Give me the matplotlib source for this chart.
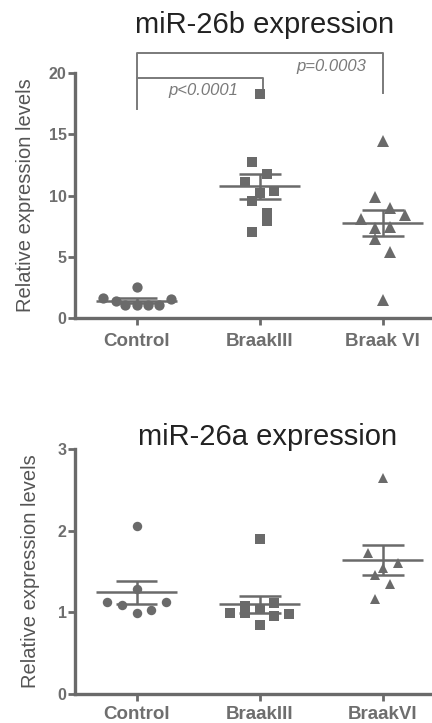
import numpy as np
import matplotlib
matplotlib.use('Agg')
import matplotlib.pyplot as plt

plt.rcParams['font.family'] = ['Liberation Sans', 'DejaVu Sans']

# miR-26b (top panel)
groups_b = ['Control', 'BraakIII', 'Braak VI']
ctrl_b = [1.68, 1.36, 1.09, 1.09, 1.09, 1.09, 1.57, 2.52]
ctrl_b_dx = [-0.27, -0.17, -0.09, 0.0, 0.09, 0.18, 0.28, 0.0]
b3_b = [18.26, 12.75, 11.13, 11.72, 10.23, 10.37, 9.58, 8.55, 7.9, 7.06]
b3_b_dx = [0.0, -0.06, -0.12, 0.06, 0.0, 0.12, -0.06, 0.06, 0.06, -0.06]
b6_b = [14.46, 9.9, 8.96, 8.41, 8.06, 7.33, 7.46, 6.43, 5.37, 1.49]
b6_b_dx = [0.0, -0.06, 0.06, 0.18, -0.18, -0.06, 0.06, -0.06, 0.06, 0.0]

# miR-26a (bottom panel)
groups_a = ['Control', 'BraakIII', 'BraakVI']
ctrl_a = [2.06, 1.29, 1.13, 1.09, 0.99, 1.03, 1.13]
ctrl_a_dx = [0.0, 0.0, -0.24, -0.12, 0.0, 0.12, 0.24]
b3_a = [1.90, 0.99, 1.08, 0.99, 1.04, 1.11, 0.95, 0.98, 0.84]
b3_a_dx = [0.0, -0.24, -0.12, -0.12, 0.0, 0.12, 0.12, 0.24, 0.0]
b6_a = [2.64, 1.73, 1.60, 1.54, 1.46, 1.35, 1.16]
b6_a_dx = [0.0, -0.12, 0.12, 0.0, -0.06, 0.06, -0.06]

GRAY = '#6a6a6a'
TXT = '#6e6e6e'


def panel(ax, sets, labels, ymax, yticks, msizes, xpad):
    markers = ['o', 's', '^']
    for i, (vals, dx) in enumerate(sets):
        vals = np.array(vals)
        x = i + np.array(dx)
        ax.plot(x, vals, linestyle='none', marker=markers[i], color=GRAY,
                markersize=msizes[i], markeredgewidth=0, zorder=3, clip_on=False)
        m = vals.mean()
        sem = vals.std(ddof=1) / np.sqrt(len(vals))
        ax.hlines(m, i - 0.33, i + 0.33, color=GRAY, lw=1.8, zorder=4)
        ax.hlines([m - sem, m + sem], i - 0.17, i + 0.17, color=GRAY, lw=1.8, zorder=4)
        ax.vlines(i, m - sem, m + sem, color=GRAY, lw=1.8, zorder=4)
    ax.set_xlim(-0.5, 2.4)
    ax.set_ylim(0, ymax)
    ax.set_xticks(range(3))
    ax.set_xticklabels(labels, fontsize=13.5, fontweight='bold', color=TXT)
    ax.set_yticks(yticks)
    ax.set_yticklabels([str(t) for t in yticks], fontsize=11.5, fontweight='bold', color=TXT)
    for s in ['top', 'right']:
        ax.spines[s].set_visible(False)
    for s in ['left', 'bottom']:
        ax.spines[s].set_color(GRAY)
        ax.spines[s].set_linewidth(2.4)
    ax.tick_params(axis='both', color=GRAY, width=2, length=5)
    ax.tick_params(axis='x', pad=xpad)
    ax.tick_params(axis='y', pad=1)
    ax.set_ylabel('Relative expression levels', fontsize=14.5, color='#555555')


fig = plt.figure(figsize=(4.32, 7.23), dpi=100)

ax1 = fig.add_axes([0.1736, 0.560, 0.8264, 0.339])
panel(ax1, [(ctrl_b, ctrl_b_dx), (b3_b, b3_b_dx), (b6_b, b6_b_dx)],
      groups_b, 20, [0, 5, 10, 15, 20], [7.4, 6.6, 8.2], 6)
ax1.yaxis.set_label_coords(-0.112, 0.5)

# significance brackets
bk = dict(color='#7a7a7a', lw=1.4, clip_on=False)
ax1.plot([0, 0, 2, 2], [17.1, 21.6, 21.6, 18.4], **bk)
ax1.plot([0, 1.03, 1.03], [19.6, 19.6, 18.8], **bk)
ax1.text(0.54, 18.6, 'p<0.0001', ha='center', va='center', fontsize=12,
         style='italic', color='#7a7a7a')
ax1.text(1.58, 20.5, 'p=0.0003', ha='center', va='center', fontsize=12,
         style='italic', color='#7a7a7a')
fig.text(0.613, 0.965, 'miR-26b expression', ha='center', va='center',
         fontsize=21, color='#222222')

ax2 = fig.add_axes([0.1736, 0.040, 0.8264, 0.339])
panel(ax2, [(ctrl_a, ctrl_a_dx), (b3_a, b3_a_dx), (b6_a, b6_a_dx)],
      groups_a, 3, [0, 1, 2, 3], [6.8, 6.6, 7.4], 3.5)
ax2.yaxis.set_label_coords(-0.098, 0.5)
fig.text(0.62, 0.395, 'miR-26a expression', ha='center', va='center',
         fontsize=21, color='#222222')

fig.savefig('out.png', dpi=100)
